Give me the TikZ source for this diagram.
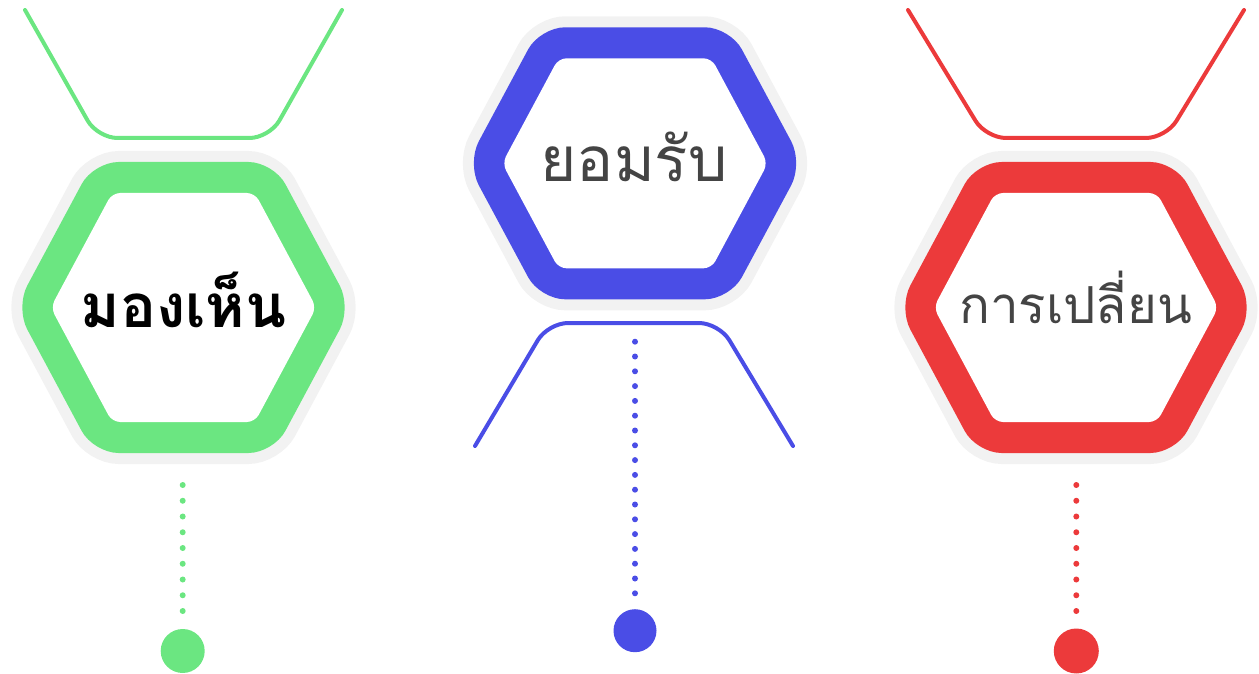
\documentclass[tikz,border=0pt]{standalone}
\usepackage{fontspec}
\newfontfamily\thaifont[Script=Thai]{Loma}
\definecolor{seegreen}{HTML}{6BE681}
\definecolor{acceptblue}{HTML}{4A4DE6}
\definecolor{changered}{HTML}{EC3A3B}
\definecolor{halogray}{HTML}{F2F2F2}
\definecolor{textgray}{HTML}{444444}

\begin{document}
\begin{tikzpicture}[x=1pt,y=-1pt,
  halo/.style={preaction={draw=halogray,line width=22pt}},
  band/.style={rounded corners=25pt},
  hole/.style={fill=white,rounded corners=8pt},
  bracket/.style={line width=4pt,line cap=round,rounded corners=20pt},
  dotline/.style={line width=6pt,line cap=round},
  knob/.style={circle,minimum size=44pt,inner sep=0pt},
  word/.style={anchor=base,font=\thaifont\fontsize{62}{70}\selectfont,text=textgray}]

\useasboundingbox (0,0) rectangle (1259,674);

% green: see
\draw[bracket, seegreen] (25,10) -- (97.5,138) -- (269.5,138) -- (342,10);
\begin{scope}[shift={(183.5,307.5)}]
\fill[seegreen, halo, band] (0,-145.5) -- (90,-145.5) -- (168,0) -- (90,145.5) -- (-90,145.5) -- (-168,0) -- (-90,-145.5) -- cycle;
\fill[hole] (0,-114.5) -- (71.4,-114.5) -- (132.8,0) -- (71.4,114.5) -- (-71.4,114.5) -- (-132.8,0) -- (-71.4,-114.5) -- cycle;
\end{scope}
\node[word, text=black, font=\thaifont\bfseries\fontsize{60}{70}\selectfont] (see) at (183.5,327) {มองเห็น};

% blue: accept
\draw[bracket, acceptblue] (475,446) -- (548,323) -- (719,323) -- (793,446);
\begin{scope}[shift={(635,163.3)}]
\fill[acceptblue, halo, band] (0,-136) -- (95,-136) -- (168,0) -- (95,136) -- (-95,136) -- (-168,0) -- (-95,-136) -- cycle;
\fill[hole] (0,-105) -- (76.5,-105) -- (132.8,0) -- (76.5,105) -- (-76.5,105) -- (-132.8,0) -- (-76.5,-105) -- cycle;
\end{scope}
\node[word] (accept) at (634,182) {ยอมรับ};

% red: change
\draw[bracket, changered] (908,10) -- (986,138) -- (1166,138) -- (1244,10);
\begin{scope}[shift={(1076,307.5)}]
\fill[changered, halo, band] (0,-145.5) -- (99.5,-145.5) -- (177.5,0) -- (99.5,145.5) -- (-99.5,145.5) -- (-177.5,0) -- (-99.5,-145.5) -- cycle;
\fill[hole] (0,-114.5) -- (81,-114.5) -- (142.3,0) -- (81,114.5) -- (-81,114.5) -- (-142.3,0) -- (-81,-114.5) -- cycle;
\end{scope}
\node[word, font=\thaifont\fontsize{51}{60}\selectfont] (change) at (1075.5,323) {การเปลี่ยน};

% dots and knobs
\node[knob, fill=seegreen] (seeknob) at (182.7,651) {};
\coordinate (seetop) at (182.7,485);
\draw[dotline, seegreen, dash pattern=on 0pt off 15.75pt, shorten >=17.5pt] (seetop) -- (seeknob.north);

\node[knob, fill=acceptblue, minimum size=43pt] (acceptknob) at (635,630.7) {};
\coordinate (accepttop) at (635,341.7);
\draw[dotline, acceptblue, dash pattern=on 0pt off 14.8pt, shorten >=15.4pt] (accepttop) -- (acceptknob.north);

\node[knob, fill=changered, minimum size=45pt] (changeknob) at (1076.3,651) {};
\coordinate (changetop) at (1076.3,485);
\draw[dotline, changered, dash pattern=on 0pt off 15.75pt, shorten >=17pt] (changetop) -- (changeknob.north);
\end{tikzpicture}
\end{document}
